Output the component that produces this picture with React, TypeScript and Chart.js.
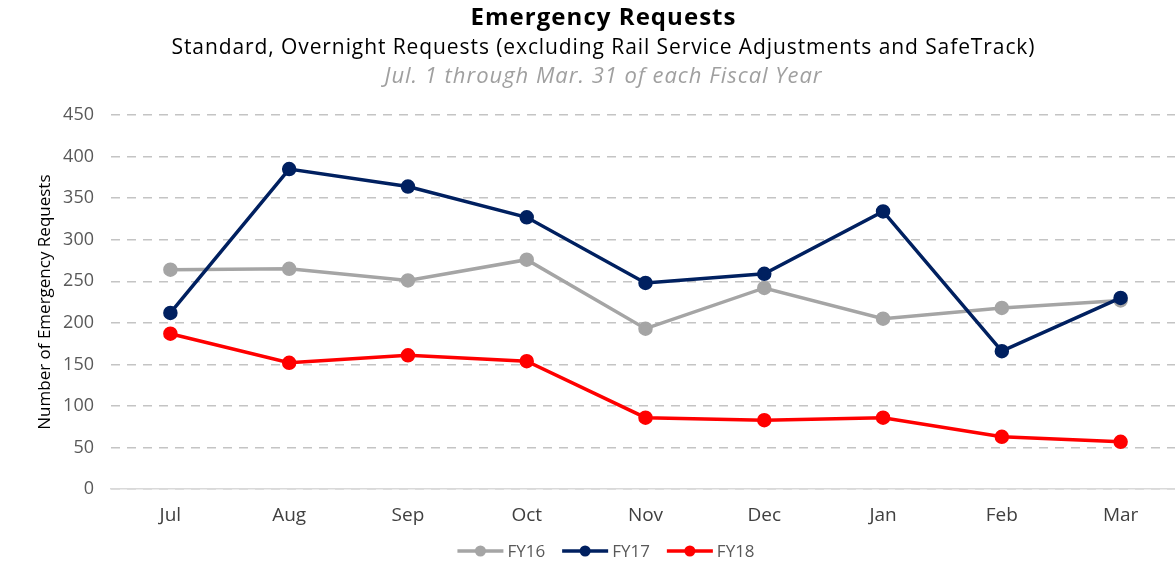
import React, { useEffect, useRef } from "react";
import { Chart, registerables } from "chart.js";

Chart.register(...registerables);

const months = ["Jul", "Aug", "Sep", "Oct", "Nov", "Dec", "Jan", "Feb", "Mar"];
const fy16 = [264, 265, 251, 276, 193, 242, 205, 218, 227];
const fy17 = [212, 385, 364, 327, 248, 259, 334, 166, 230];
const fy18 = [187, 152, 161, 154, 86, 83, 86, 63, 57];
const seriesNames = ["FY16", "FY17", "FY18"];
const seriesColors = ["#a5a5a5", "#002060", "#ff0000"];
const titleText = "Emergency Requests";
const subtitleText = "Standard, Overnight Requests (excluding Rail Service Adjustments and SafeTrack)";
const noteText = "Jul. 1 through Mar. 31 of each Fiscal Year";
const yAxisTitle = "Number of Emergency Requests";

const FONT = "'Open Sans', 'Noto Sans', sans-serif";
const W = 1206;
const H = 565;

function fitText(ctx: any, text: string, x: number, y: number, width: number) {
  const w = ctx.measureText(text).width;
  const n = text.length - 1;
  const sp = n > 0 ? (width - w) / n : 0;
  ctx.letterSpacing = `${sp}px`;
  const w2 = ctx.measureText(text).width;
  ctx.textAlign = "left";
  ctx.fillText(text, x - w2 / 2 + sp / 2, y);
  ctx.letterSpacing = "0px";
}

const titlePlugin = {
  id: "titles",
  afterDraw(chart: any) {
    const ctx = chart.ctx;
    const cx = 603;
    ctx.save();
    ctx.textBaseline = "alphabetic";
    ctx.fillStyle = "#000000";
    ctx.font = `bold 24px ${FONT}`;
    fitText(ctx, titleText, cx, 25, 265);
    ctx.font = `21px ${FONT}`;
    ctx.fillStyle = "#000000";
    fitText(ctx, subtitleText, cx, 54, 863);
    ctx.font = `italic 22px ${FONT}`;
    ctx.fillStyle = "#a0a0a0";
    fitText(ctx, noteText, cx, 83, 437);
    ctx.restore();
  },
};

const legendPlugin = {
  id: "customLegend",
  afterDraw(chart: any) {
    const ctx = chart.ctx;
    const cy = 551;
    const iconW = 46;
    const iconGap = 4;
    const itemGap = 17;
    ctx.save();
    ctx.font = `17px ${FONT}`;
    const items = chart.data.datasets.map((ds: any) => ({
      text: ds.label,
      color: ds.borderColor,
      w: iconW + iconGap + ctx.measureText(ds.label).width,
    }));
    const total = items.reduce((s: number, it: any) => s + it.w, 0) + itemGap * (items.length - 1);
    let x = 606 - total / 2;
    ctx.textBaseline = "middle";
    ctx.textAlign = "left";
    for (const it of items) {
      ctx.strokeStyle = it.color;
      ctx.lineWidth = 3.5;
      ctx.beginPath();
      ctx.moveTo(x, cy);
      ctx.lineTo(x + iconW, cy);
      ctx.stroke();
      ctx.fillStyle = it.color;
      ctx.beginPath();
      ctx.arc(x + iconW / 2, cy, 5.5, 0, Math.PI * 2);
      ctx.fill();
      ctx.fillStyle = "#595959";
      ctx.fillText(it.text, x + iconW + iconGap, cy + 1);
      x += it.w + itemGap;
    }
    ctx.restore();
  },
};

export default function App() {
  const ref = useRef<HTMLCanvasElement | null>(null);
  useEffect(() => {
    if (!ref.current) return;
    const values = [fy16, fy17, fy18];
    const chart = new Chart(ref.current, {
      type: "line",
      data: {
        labels: months,
        datasets: values.map((d, i) => ({
          label: seriesNames[i],
          data: d,
          borderColor: seriesColors[i],
          backgroundColor: seriesColors[i],
          pointBackgroundColor: seriesColors[i],
          pointBorderColor: seriesColors[i],
          borderWidth: 3.5,
          pointRadius: 5.5,
          pointHoverRadius: 5.5,
          tension: 0,
          fill: false,
          order: i === 0 ? 3 : i === 1 ? 2 : 1,
        })),
      },
      options: {
        responsive: false,
        animation: false,
        devicePixelRatio: 1,
        layout: { padding: { top: 115, right: 26, left: 25, bottom: 23 } },
        plugins: {
          title: { display: false },
          tooltip: { enabled: false },
          legend: { display: false },
        },
        scales: {
          x: {
            offset: true,
            grid: { display: false, drawTicks: false },
            border: { display: true, color: "#d9d9d9", width: 1.5 },
            ticks: {
              font: { family: FONT, size: 19 },
              color: "#404040",
              padding: 15,
            },
          },
          y: {
            min: 0,
            max: 450,
            afterFit: (scale: any) => {
              scale.width = 86;
            },
            ticks: {
              stepSize: 50,
              font: { family: FONT, size: 18 },
              color: "#595959",
              padding: 17,
            },
            grid: {
              color: "#c4c4c4",
              lineWidth: 1.5,
              drawTicks: false,
            },
            border: { display: false, dash: [9, 7] },
            title: {
              display: true,
              text: yAxisTitle,
              font: { family: FONT, size: 17 },
              color: "#000000",
              padding: { top: 10, bottom: 0 },
            },
          },
        },
      },
      plugins: [titlePlugin, legendPlugin],
    });
    return () => chart.destroy();
  }, []);
  return (
    <div style={{ position: "fixed", left: 0, top: 0, width: 1175, height: H, overflow: "hidden", background: "#fff" }}>
      <canvas ref={ref} width={W} height={H} style={{ width: W, height: H, display: "block" }} />
    </div>
  );
}
